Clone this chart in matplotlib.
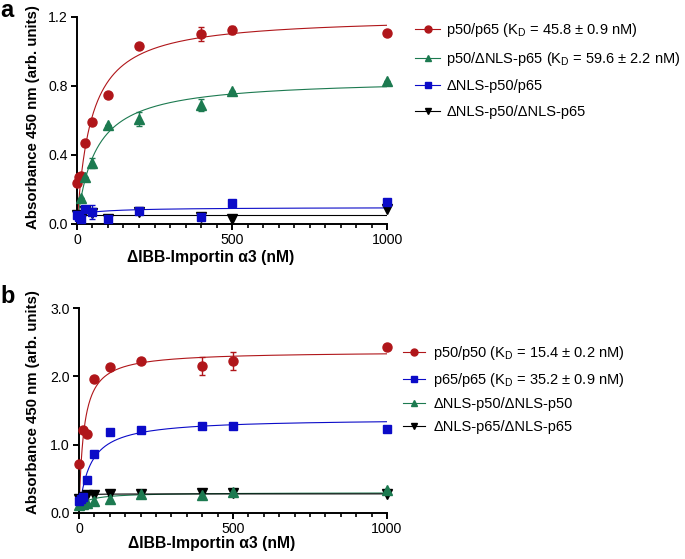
import numpy as np
import matplotlib
matplotlib.use("Agg")
import matplotlib.pyplot as plt
from matplotlib.lines import Line2D
from matplotlib.ticker import MultipleLocator, FormatStrFormatter

plt.rcParams['font.family'] = ['Liberation Sans', 'DejaVu Sans']
plt.rcParams['mathtext.fontset'] = 'custom'
plt.rcParams['mathtext.rm'] = 'Liberation Sans'

RED = '#b0161a'
GREEN = '#1c7a50'
BLUE = '#0b0bc8'
BLACK = '#000000'

# ---- panel a data ----
a_red_x = [0, 6.25, 12.5, 25, 50, 100, 200, 400, 500, 1000]
a_red_y = [0.24, 0.27, 0.28, 0.47, 0.59, 0.75, 1.03, 1.10, 1.125, 1.11]
a_red_err = [0, 0, 0, 0, 0, 0, 0, 0.04, 0.025, 0]

a_green_x = [12.5, 25, 50, 100, 200, 400, 500, 1000]
a_green_y = [0.15, 0.27, 0.355, 0.575, 0.61, 0.69, 0.77, 0.83]
a_green_err = [0, 0, 0.03, 0, 0.04, 0.035, 0, 0]

a_blue_x = [0, 6.25, 12.5, 25, 50, 100, 200, 400, 500, 1000]
a_blue_y = [0.05, 0.04, 0.03, 0.085, 0.07, 0.03, 0.075, 0.04, 0.12, 0.13]
a_blue_err = [0, 0, 0, 0, 0.04, 0, 0, 0, 0, 0]

a_black_x = [0, 6.25, 12.5, 25, 50, 100, 200, 400, 500, 1000]
a_black_y = [0.05, 0.045, 0.035, 0.075, 0.065, 0.03, 0.072, 0.04, 0.03, 0.087]

# ---- panel b data ----
b_red_x = [0, 12.5, 25, 50, 100, 200, 400, 500, 1000]
b_red_y = [0.72, 1.21, 1.16, 1.96, 2.14, 2.22, 2.15, 2.22, 2.43]
b_red_err = [0, 0, 0, 0, 0, 0, 0.13, 0.13, 0]

b_blue_x = [0, 6.25, 12.5, 25, 50, 100, 200, 400, 500, 1000]
b_blue_y = [0.18, 0.2, 0.24, 0.48, 0.87, 1.19, 1.21, 1.27, 1.28, 1.23]

b_green_x = [0, 12.5, 25, 50, 100, 200, 400, 500, 1000]
b_green_y = [0.12, 0.13, 0.15, 0.17, 0.21, 0.28, 0.27, 0.30, 0.34]

b_black_x = [0, 12.5, 25, 50, 100, 200, 400, 500, 1000]
b_black_y = [0.2, 0.24, 0.26, 0.27, 0.28, 0.28, 0.29, 0.29, 0.28]

# K_D values from the legend (nM)
kd_a_red, kd_a_green = 45.8, 59.6
kd_b_red, kd_b_blue = 15.4, 35.2

# baseline + hyperbola params (c, B, K) for the non-binding series
fit_a_blue = (0.055, 0.042, 100)
fit_a_black = (0.053, 0.0, 1)
fit_b_green = (0.10, 0.20, 40)
fit_b_black = (0.20, 0.08, 5)

labels_a = [r'p50/p65 (K$_\mathrm{D}$ = 45.8 ± 0.9 nM)',
            r'p50/ΔNLS-p65 (K$_\mathrm{D}$ = 59.6 ± 2.2 nM)',
            'ΔNLS-p50/p65',
            'ΔNLS-p50/ΔNLS-p65']
labels_b = [r'p50/p50 (K$_\mathrm{D}$ = 15.4 ± 0.2 nM)',
            r'p65/p65 (K$_\mathrm{D}$ = 35.2 ± 0.9 nM)',
            'ΔNLS-p50/ΔNLS-p50',
            'ΔNLS-p65/ΔNLS-p65']

xs = np.linspace(0, 1000, 600)


def kd_curve(x, y, kd):
    # one-site binding, Bmax by least squares with fixed KD
    f = np.array(x) / (kd + np.array(x))
    bmax = np.sum(np.array(y) * f) / np.sum(f * f)
    return bmax * xs / (kd + xs)


def flat_curve(p):
    c, b, k = p
    return c + b * xs / (k + xs)


def style_axes(ax, ymax, ystep, xlab_pos, ylab_pos):
    for s in ['top', 'right']:
        ax.spines[s].set_visible(False)
    for s in ['left', 'bottom']:
        ax.spines[s].set_linewidth(1.4)
    ax.set_xlim(0, 1000)
    ax.set_ylim(0, ymax)
    ax.set_xticks([0, 500, 1000])
    ax.xaxis.set_minor_locator(MultipleLocator(50))
    ax.set_yticks(np.arange(0, ymax + 0.001, ystep))
    ax.yaxis.set_major_formatter(FormatStrFormatter('%.1f'))
    ax.tick_params(which='major', direction='out', length=4.5, width=1.4, labelsize=10.2, pad=2)
    ax.tick_params(which='minor', direction='out', length=3, width=1.2)
    ax.set_xlabel('ΔIBB-Importin α3 (nM)', fontsize=11.3, fontweight='bold')
    ax.set_ylabel('Absorbance 450 nm (arb. units)', fontsize=10.8, fontweight='bold')
    ax.xaxis.set_label_coords(*xlab_pos)
    ax.yaxis.set_label_coords(*ylab_pos)


def points(ax, x, y, color, marker, ms, err=None, z=3):
    ax.errorbar(x, y, yerr=err, fmt=marker, color=color, ms=ms, capsize=2.5,
                elinewidth=1, capthick=1, clip_on=False, zorder=z)


fig = plt.figure(figsize=(6.85, 5.59), dpi=100)
ax_a = fig.add_axes([0.1124, 0.5993, 0.4526, 0.3703])
ax_b = fig.add_axes([0.1153, 0.0823, 0.4496, 0.3667])

# panel a
ax_a.plot(xs, flat_curve(fit_a_black), color=BLACK, lw=0.8, zorder=2)
ax_a.plot(xs, flat_curve(fit_a_blue), color=BLUE, lw=0.8, zorder=2)
ax_a.plot(xs, kd_curve(a_green_x, a_green_y, kd_a_green), color=GREEN, lw=0.8, zorder=2)
ax_a.plot(xs, kd_curve(a_red_x, a_red_y, kd_a_red), color=RED, lw=0.8, zorder=2)
points(ax_a, a_black_x, a_black_y, BLACK, 'v', 6.6, z=3)
points(ax_a, a_red_x, a_red_y, RED, 'o', 6.5, a_red_err, z=4)
points(ax_a, a_green_x, a_green_y, GREEN, '^', 6.6, a_green_err, z=5)
points(ax_a, a_blue_x, a_blue_y, BLUE, 's', 6.2, a_blue_err, z=6)
style_axes(ax_a, 1.2, 0.4, (0.432, -0.125), (-0.12, 0.515))

# panel b
ax_b.plot(xs, kd_curve(b_red_x, b_red_y, kd_b_red), color=RED, lw=0.8, zorder=2)
ax_b.plot(xs, kd_curve(b_blue_x, b_blue_y, kd_b_blue), color=BLUE, lw=0.8, zorder=2)
ax_b.plot(xs, flat_curve(fit_b_green), color=GREEN, lw=0.8, zorder=2)
ax_b.plot(xs, flat_curve(fit_b_black), color=BLACK, lw=0.8, zorder=2)
points(ax_b, b_red_x, b_red_y, RED, 'o', 6.5, b_red_err, z=3)
points(ax_b, b_black_x, b_black_y, BLACK, 'v', 6.6, z=4)
points(ax_b, b_green_x, b_green_y, GREEN, '^', 6.6, z=5)
points(ax_b, b_blue_x, b_blue_y, BLUE, 's', 6.2, z=6)
style_axes(ax_b, 3.0, 1.0, (0.43, -0.11), (-0.127, 0.54))


def legend_handles(specs):
    return [Line2D([], [], color=c, marker=m, ms=5, lw=0.8) for c, m in specs]


h_a = legend_handles([(RED, 'o'), (GREEN, '^'), (BLUE, 's'), (BLACK, 'v')])
fig.legend(h_a, labels_a, loc='upper left', bbox_to_anchor=(0.606, 0.963),
           frameon=False, fontsize=10.5, handlelength=1.7, handletextpad=0.45,
           labelspacing=0.78, borderpad=0, borderaxespad=0)

h_b = legend_handles([(RED, 'o'), (BLUE, 's'), (GREEN, '^'), (BLACK, 'v')])
fig.legend(h_b, labels_b, loc='upper left', bbox_to_anchor=(0.589, 0.384),
           frameon=False, fontsize=10.5, handlelength=1.5, handletextpad=0.55,
           labelspacing=0.58, borderpad=0, borderaxespad=0)

fig.text(0.0, 0.9696, 'a', fontsize=17, fontweight='bold', va='baseline', ha='left')
fig.text(0.0, 0.458, 'b', fontsize=17, fontweight='bold', va='baseline', ha='left')

fig.savefig('out.png', dpi=100)
